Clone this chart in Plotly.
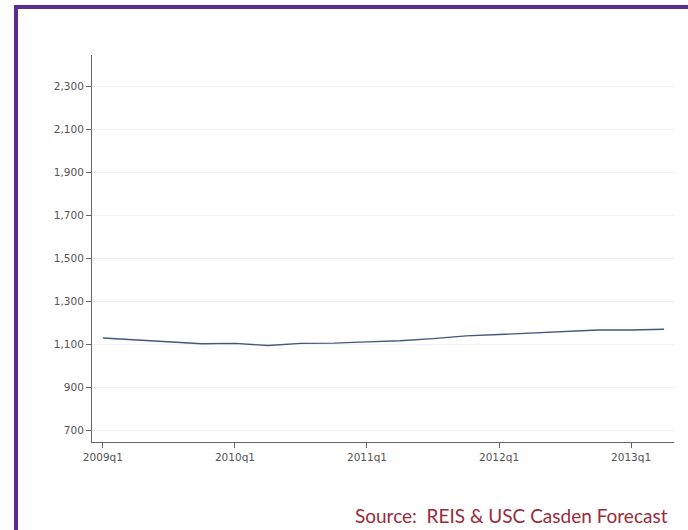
import plotly.graph_objects as go

quarters = ["2009q1","2009q2","2009q3","2009q4","2010q1","2010q2","2010q3","2010q4",
            "2011q1","2011q2","2011q3","2011q4","2012q1","2012q2","2012q3","2012q4",
            "2013q1","2013q2"]
values = [1130, 1120, 1113, 1103, 1105, 1095, 1105, 1106,
          1112, 1117, 1127, 1140, 1146, 1153, 1160, 1167, 1167, 1171]
x_tick_labels = ["2009q1", "2010q1", "2011q1", "2012q1", "2013q1"]
y_ticks = [700, 900, 1100, 1300, 1500, 1700, 1900, 2100, 2300]

x_idx = list(range(len(quarters)))
x_tick_pos = [quarters.index(q) for q in x_tick_labels]

W, H = 688, 530
L, R, T, B = 92, 14, 55, 88
pw, ph = W - L - R, H - T - B

def px(xp):
    return (xp - L) / pw

def py(yp):
    return (H - B - yp) / ph

fig = go.Figure()
fig.add_trace(go.Scatter(
    x=x_idx, y=values, mode="lines",
    line=dict(color="#44587a", width=1.4),
    hoverinfo="skip", showlegend=False,
))

tick_font = dict(family="DejaVu Sans, sans-serif", size=10.5, color="#555")

fig.update_layout(
    width=W, height=H,
    margin=dict(l=L, r=R, t=T, b=B, pad=0),
    paper_bgcolor="white", plot_bgcolor="white",
    font=dict(family="DejaVu Sans, sans-serif", color="#555"),
    xaxis=dict(
        range=[-0.33, 17.3],
        tickvals=x_tick_pos, ticktext=x_tick_labels,
        showgrid=False, zeroline=False,
        showline=True, linecolor="#666", linewidth=1,
        ticks="outside", ticklen=5, tickcolor="#666",
        tickfont=tick_font,
    ),
    yaxis=dict(
        range=[646, 2447],
        tickvals=y_ticks, tickformat=",",
        showgrid=True, gridcolor="#f1f1f1", gridwidth=1,
        zeroline=False,
        showline=True, linecolor="#666", linewidth=1,
        ticks="outside", ticklen=5, tickcolor="#666",
        tickfont=tick_font,
    ),
    shapes=[
        dict(type="line", xref="paper", yref="paper",
             x0=px(16), x1=px(16), y0=py(7), y1=py(540),
             line=dict(color="#5c2d8f", width=4)),
        dict(type="line", xref="paper", yref="paper",
             x0=px(14), x1=px(700), y0=py(7), y1=py(7),
             line=dict(color="#5c2d8f", width=4)),
    ],
    annotations=[
        dict(text="Source:  REIS &amp; USC Casden Forecast",
             xref="paper", yref="paper",
             x=px(670), y=py(515), xanchor="right", yanchor="middle",
             showarrow=False,
             font=dict(family="Lato, Open Sans, sans-serif", size=19, color="#9b2a3a")),
    ],
)

fig.write_html("out.html",
               config={"displayModeBar": False, "staticPlot": True},
               post_script="document.body.style.margin='0';document.body.style.overflow='hidden';")
